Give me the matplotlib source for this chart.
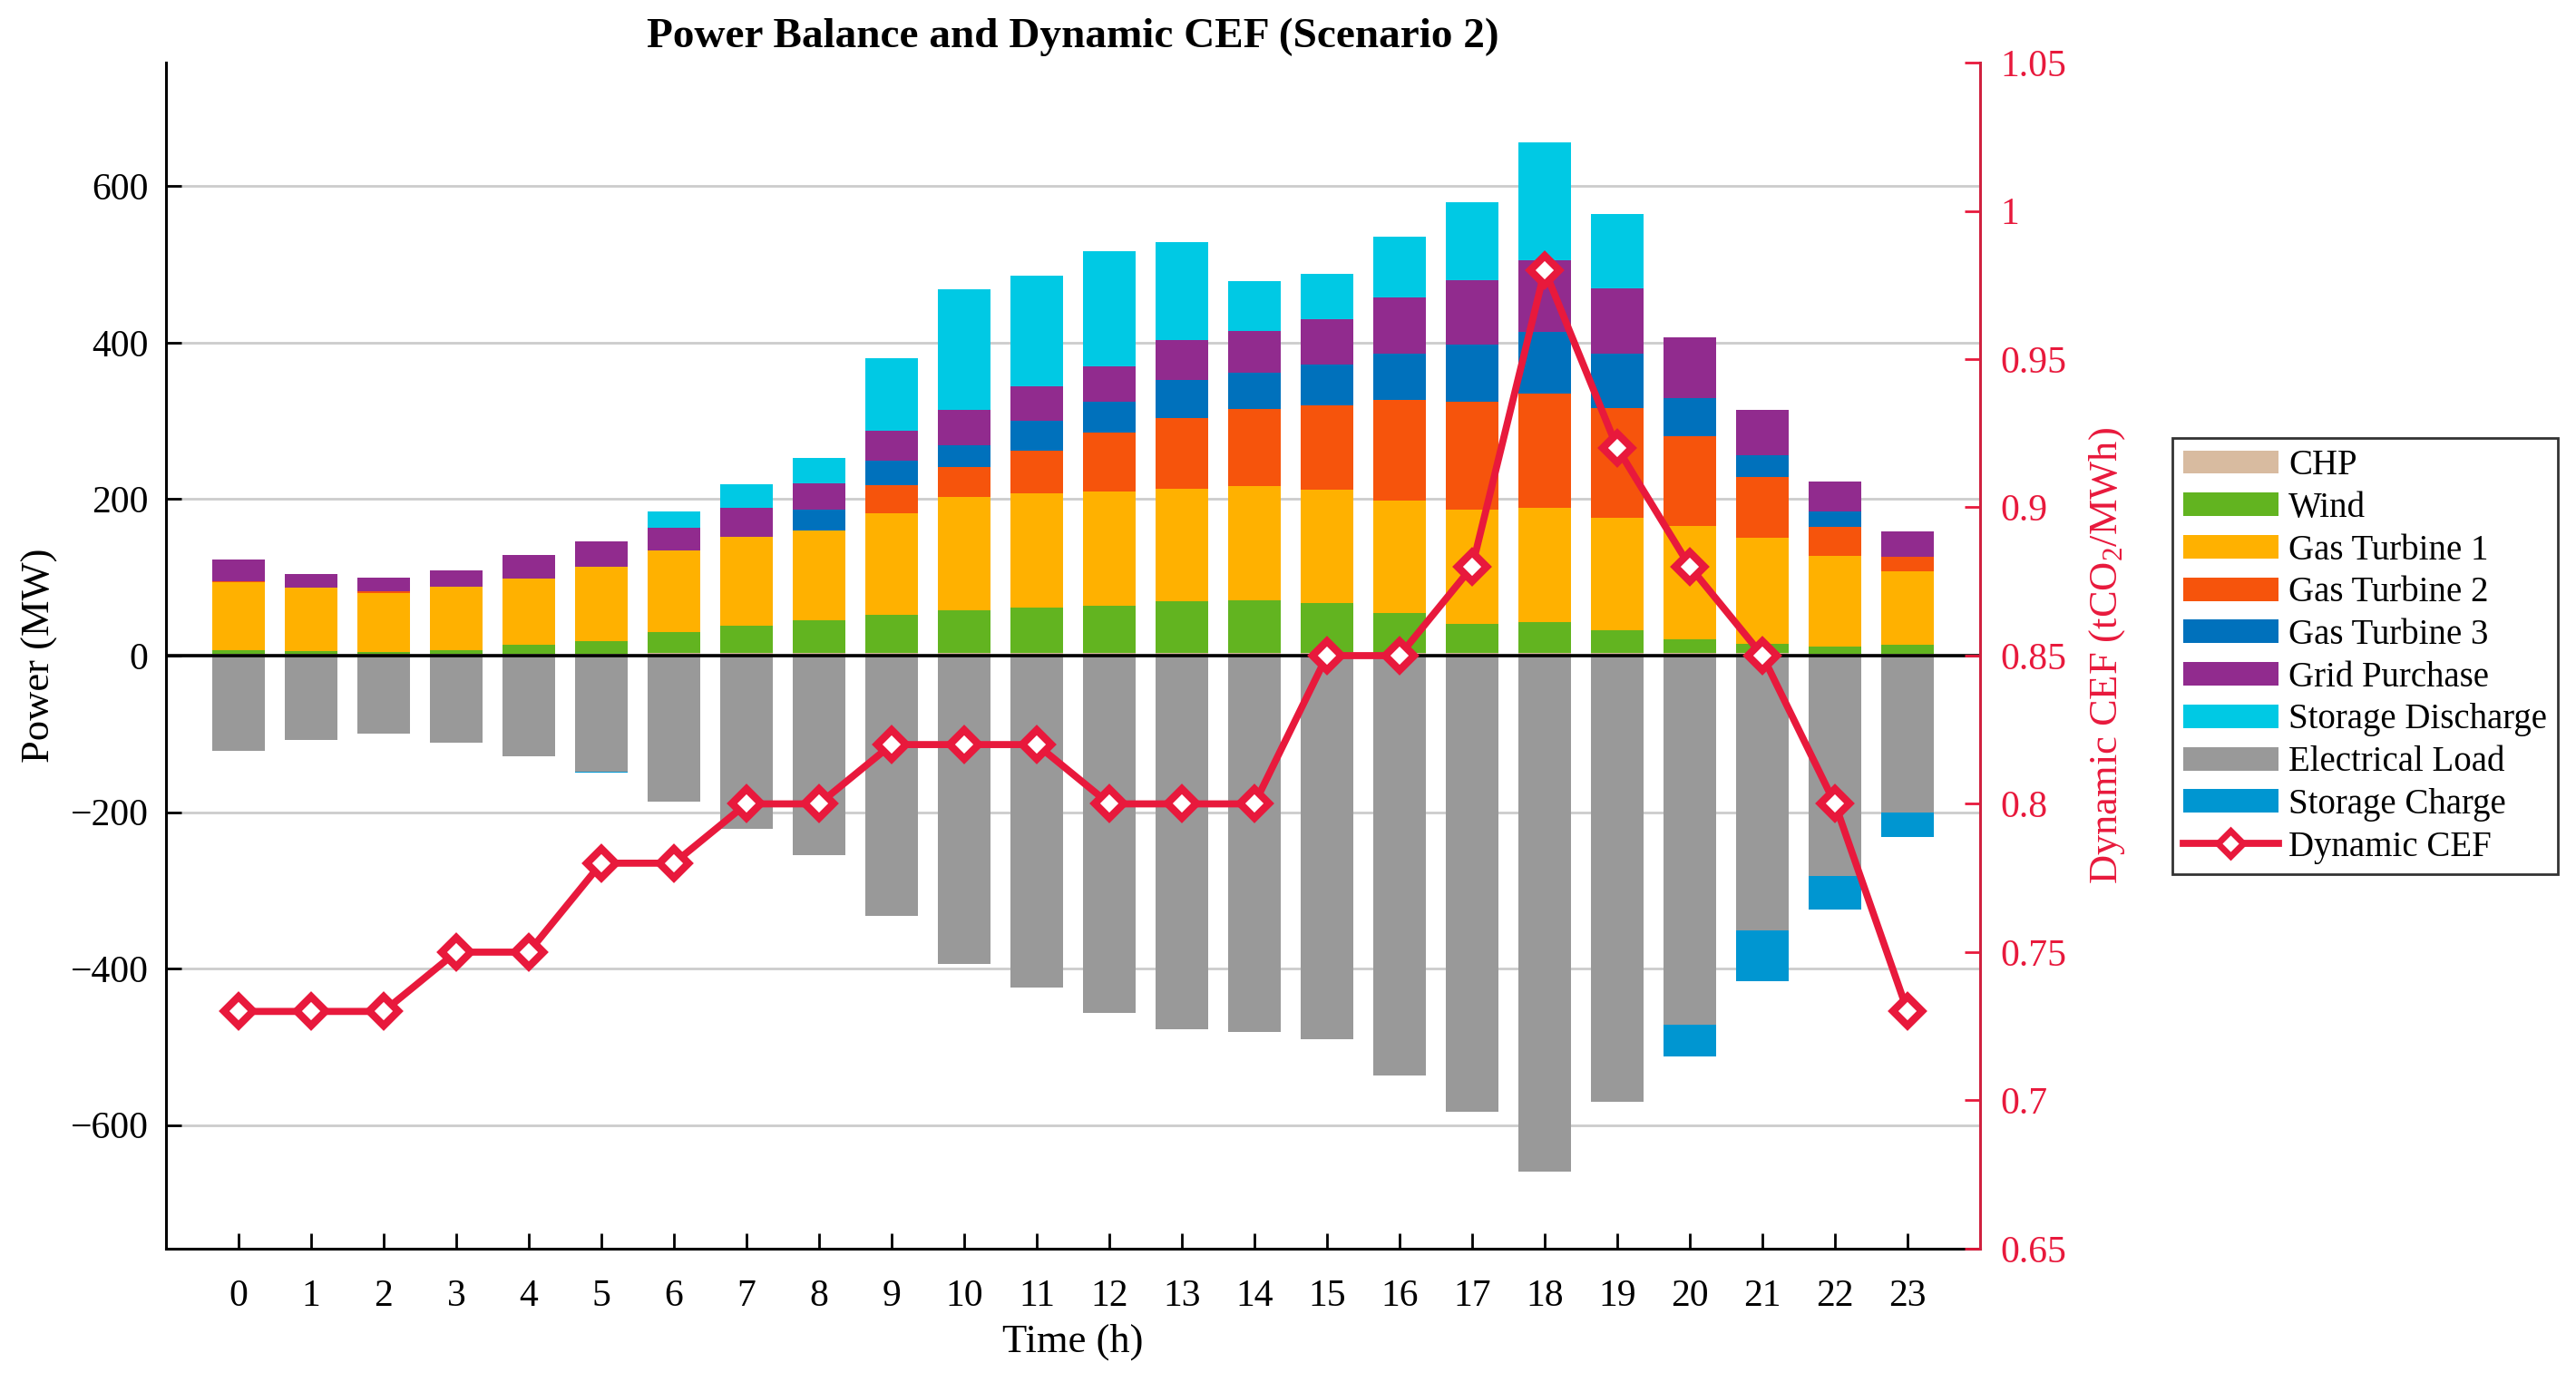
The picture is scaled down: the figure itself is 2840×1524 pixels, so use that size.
import numpy as np
import matplotlib
matplotlib.use('Agg')
import matplotlib.pyplot as plt
from matplotlib.patches import Patch
from matplotlib.lines import Line2D

plt.rcParams['font.family'] = ['Liberation Serif', 'DejaVu Serif']
plt.rcParams['mathtext.fontset'] = 'custom'
plt.rcParams['mathtext.rm'] = 'Liberation Serif'
plt.rcParams['mathtext.it'] = 'Liberation Serif:italic'

hours = list(range(24))

# generation (MW), stacked upwards
chp = [2, 2, 2, 2, 2, 2, 3, 3, 3, 3, 3, 3, 3, 3, 3, 3, 3, 3, 3, 3, 3, 3, 2, 2]
wind = [5, 4, 2.5, 4.5, 11.5, 17, 27, 35, 42, 49, 55, 58, 61, 66, 68, 64, 51, 38, 40, 29, 18, 12.5, 9, 12]
gt1 = [87, 80.5, 75.5, 81, 84.5, 94, 105, 114, 115, 130, 145, 146, 146, 144, 146, 145, 144, 146, 146, 144, 145, 135, 117, 94]
gt2 = [1, 0, 2, 0, 1, 0, 0, 0, 0, 36, 38, 55, 75, 91, 98, 108, 129, 138, 146, 141, 115, 78, 37, 18]
gt3 = [0, 0, 0, 0, 0, 0, 0, 0, 27, 31, 28, 38, 39, 48, 47, 52, 59, 73, 79, 69, 48, 28, 19, 0]
grid = [28, 17.5, 17.5, 22, 30, 32.5, 28, 36.5, 33, 39, 45, 44, 46, 51, 53, 58, 72, 82, 91, 84, 78, 58, 38, 33]
discharge = [0, 0, 0, 0, 0, 0, 21, 30, 33, 92, 154, 142, 147, 126, 64, 58, 78, 100, 151, 95, 0, 0, 0, 0]

# consumption (MW), stacked downwards
load = [-121.5, -107.5, -99.5, -111.5, -128.5, -148, -186.5, -221.5, -255, -333, -394.5, -424,
        -456.5, -478, -480.5, -490.5, -536.5, -583, -660, -570.5, -471.5, -351.5, -281.5, -200]
charge = [0, 0, 0, 0, 0, -2, 0, 0, 0, 0, 0, 0, 0, 0, 0, 0, 0, 0, 0, 0, -41, -65, -43.5, -31.5]

# dynamic carbon emission factor (tCO2/MWh)
cef = [0.73, 0.73, 0.73, 0.75, 0.75, 0.78, 0.78, 0.80, 0.80, 0.82, 0.82, 0.82,
       0.80, 0.80, 0.80, 0.85, 0.85, 0.88, 0.98, 0.92, 0.88, 0.85, 0.80, 0.73]

pos_names = ['CHP', 'Wind', 'Gas Turbine 1', 'Gas Turbine 2', 'Gas Turbine 3',
             'Grid Purchase', 'Storage Discharge']
pos_series = [chp, wind, gt1, gt2, gt3, grid, discharge]
pos_colors = ['#D8BBA0', '#62B420', '#FFB100', '#F6540C', '#0071BC', '#912B8E', '#00C9E4']
load_color = '#999999'
charge_color = '#0096D1'
red = '#E8193C'

fig = plt.figure(figsize=(14.2, 7.62), dpi=200)
ax = fig.add_axes([0.0644, 0.0965, 0.7043, 0.8582])

w = 0.72
x = np.array(hours)
bottom = np.zeros(24)
for vals, c in zip(pos_series, pos_colors):
    ax.bar(x, vals, w, bottom=bottom, color=c, linewidth=0, zorder=2)
    bottom += np.array(vals)
ax.bar(x, load, w, color=load_color, linewidth=0, zorder=2)
ax.bar(x, charge, w, bottom=load, color=charge_color, linewidth=0, zorder=2)

ax.axhline(0, color='black', lw=1.3, zorder=3)
ax.set_xlim(-1, 24)
ax.set_ylim(-758, 758)
ax.set_xticks(hours)
ax.set_yticks([-600, -400, -200, 0, 200, 400, 600])
ax.yaxis.grid(True, color='#cccccc', lw=1.0, zorder=0)
ax.set_axisbelow(True)
ax.tick_params(direction='in', length=6, width=1.0, labelsize=15)
ax.tick_params(axis='y', pad=7)
ax.tick_params(axis='x', pad=12)
ax.spines['top'].set_visible(False)
ax.spines['right'].set_visible(False)
ax.spines['left'].set_linewidth(1.1)
ax.spines['bottom'].set_linewidth(1.1)
ax.set_xlabel('Time (h)', fontsize=16, labelpad=4)
ax.set_ylabel('Power (MW)', fontsize=16, labelpad=5)
ax.set_title('Power Balance and Dynamic CEF (Scenario 2)', fontsize=17, fontweight='bold', pad=6)

ax2 = ax.twinx()
ax2.plot(x, cef, color=red, lw=2.8, marker='D', ms=8, mfc='white', mec=red, mew=3, zorder=5)
ax2.set_ylim(0.65, 1.05)
ax2.set_yticks([0.65, 0.7, 0.75, 0.8, 0.85, 0.9, 0.95, 1.0, 1.05])
ax2.set_yticklabels(['0.65', '0.7', '0.75', '0.8', '0.85', '0.9', '0.95', '1', '1.05'])
ax2.tick_params(direction='in', length=6, width=1.0, labelsize=15, colors=red, pad=8)
for s in ['top', 'left', 'bottom']:
    ax2.spines[s].set_visible(False)
ax2.spines['right'].set_color('#D0213F')
ax2.spines['right'].set_linewidth(1.1)
ax2.set_ylabel('Dynamic CEF (tCO$_2$/MWh)', fontsize=16, color=red, labelpad=8)

handles = [Patch(facecolor=c, edgecolor='none') for c in pos_colors]
handles += [Patch(facecolor=load_color, edgecolor='none'), Patch(facecolor=charge_color, edgecolor='none')]
handles += [Line2D([0], [0], color=red, lw=2.8, marker='D', ms=7, mfc='white', mec=red, mew=2.5)]
labels = pos_names + ['Electrical Load', 'Storage Charge', 'Dynamic CEF']
leg = fig.legend(handles, labels, loc='center left', bbox_to_anchor=(0.8433, 0.525),
                 fontsize=14, frameon=True, fancybox=False, edgecolor='black',
                 handlelength=2.7, handleheight=0.65, handletextpad=0.3,
                 labelspacing=0.25, borderpad=0.3, borderaxespad=0)
leg.get_frame().set_linewidth(1.0)

fig.savefig('out.png', dpi=200)
